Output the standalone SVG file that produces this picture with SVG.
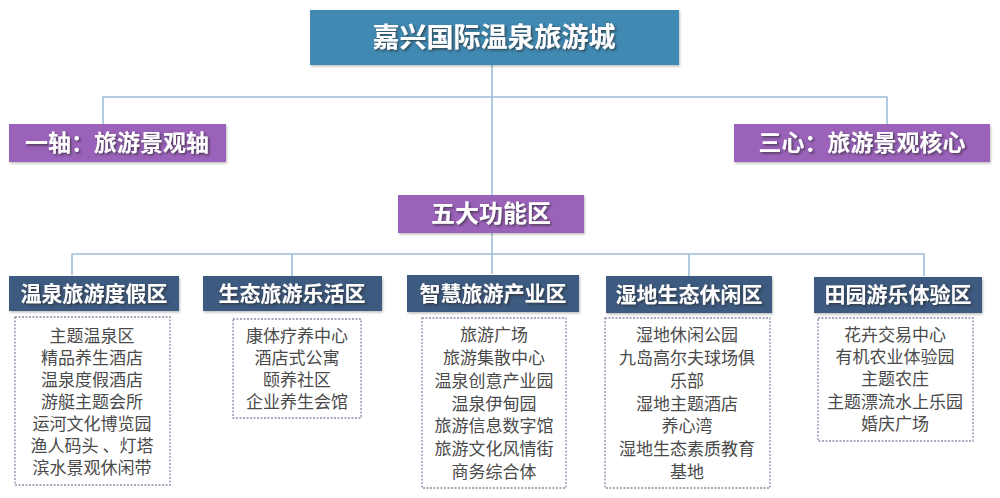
<svg xmlns="http://www.w3.org/2000/svg" width="1000" height="498" viewBox="0 0 1000 498">
<defs>
<filter id="ts" x="-10%" y="-20%" width="130%" height="150%"><feDropShadow dx="1.5" dy="1.5" stdDeviation="0.8" flood-color="#2a2a2a" flood-opacity="0.7"/></filter>
<filter id="bs" x="-5%" y="-10%" width="115%" height="130%"><feDropShadow dx="1" dy="1.5" stdDeviation="1" flood-color="#000" flood-opacity="0.25"/></filter>
</defs>
<style>
.con{fill:none;stroke:#9fbdd9;stroke-width:1.6}
.title{fill:#3f89b2}
.purple{fill:#9b62ba}
.hdr{fill:#3d5a80}
.lbl{font-family:"Noto Sans CJK SC",sans-serif;font-weight:bold;fill:#fff;text-anchor:middle;filter:url(#ts)}
.det{fill:#fff;stroke:#8a8fa8;stroke-width:1.3;stroke-dasharray:2 1.5}
.item{font-family:"Noto Sans CJK SC",sans-serif;font-size:17px;fill:#4a4a4a;text-anchor:middle}
</style>
<rect width="1000" height="498" fill="#fff"/>
<g id="connectors">
<path class="con" d="M492 65 V195 M103 124 V97 H887 V124"/>
<path class="con" d="M492 233 V254 M72 275 V254 H924 V276 M292 254 V276 M492 254 V274 M689 254 V276"/>
</g>
<g id="root">
<rect class="title" x="310" y="10" width="369" height="55" filter="url(#bs)"/>
<text class="lbl" x="494" y="47" font-size="27">嘉兴国际温泉旅游城</text>
</g>
<g id="axis">
<rect class="purple" x="9" y="124" width="217" height="38" filter="url(#bs)"/>
<text class="lbl" x="117" y="151" font-size="23">一轴：旅游景观轴</text>
</g>
<g id="cores">
<rect class="purple" x="734" y="124" width="256" height="38" filter="url(#bs)"/>
<text class="lbl" x="862" y="151" font-size="23">三心：旅游景观核心</text>
</g>
<g id="five">
<rect class="purple" x="398" y="195" width="186" height="38" filter="url(#bs)"/>
<text class="lbl" x="491" y="222" font-size="24">五大功能区</text>
</g>
<g id="zone1">
<rect class="hdr" x="9" y="276" width="170" height="35" filter="url(#bs)"/>
<text class="lbl" x="94" y="301" font-size="21">温泉旅游度假区</text>
<rect class="det" x="15" y="317" width="155" height="168"/>
<text class="item" x="92" y="342">主题温泉区</text>
<text class="item" x="92" y="364">精品养生酒店</text>
<text class="item" x="92" y="386">温泉度假酒店</text>
<text class="item" x="92" y="408">游艇主题会所</text>
<text class="item" x="92" y="430">运河文化博览园</text>
<text class="item" x="92" y="452">渔人码头 、灯塔</text>
<text class="item" x="92" y="474">滨水景观休闲带</text>
</g>
<g id="zone2">
<rect class="hdr" x="203" y="276" width="179" height="35" filter="url(#bs)"/>
<text class="lbl" x="292" y="301" font-size="21">生态旅游乐活区</text>
<rect class="det" x="233" y="319" width="128" height="99"/>
<text class="item" x="297" y="342">康体疗养中心</text>
<text class="item" x="297" y="364">酒店式公寓</text>
<text class="item" x="297" y="386">颐养社区</text>
<text class="item" x="297" y="408">企业养生会馆</text>
</g>
<g id="zone3">
<rect class="hdr" x="407" y="275" width="172" height="37" filter="url(#bs)"/>
<text class="lbl" x="493" y="301" font-size="21">智慧旅游产业区</text>
<rect class="det" x="422" y="318" width="144" height="170"/>
<text class="item" x="494" y="341">旅游广场</text>
<text class="item" x="494" y="364">旅游集散中心</text>
<text class="item" x="494" y="387">温泉创意产业园</text>
<text class="item" x="494" y="410">温泉伊甸园</text>
<text class="item" x="494" y="432">旅游信息数字馆</text>
<text class="item" x="494" y="455">旅游文化风情街</text>
<text class="item" x="494" y="478">商务综合体</text>
</g>
<g id="zone4">
<rect class="hdr" x="606" y="276" width="166" height="37" filter="url(#bs)"/>
<text class="lbl" x="689" y="302" font-size="21">湿地生态休闲区</text>
<rect class="det" x="605" y="318" width="165" height="170"/>
<text class="item" x="687" y="341">湿地休闲公园</text>
<text class="item" x="687" y="364">九岛高尔夫球场俱</text>
<text class="item" x="687" y="387">乐部</text>
<text class="item" x="687" y="410">湿地主题酒店</text>
<text class="item" x="687" y="432">养心湾</text>
<text class="item" x="687" y="455">湿地生态素质教育</text>
<text class="item" x="687" y="478">基地</text>
</g>
<g id="zone5">
<rect class="hdr" x="814" y="277" width="168" height="36" filter="url(#bs)"/>
<text class="lbl" x="898" y="302" font-size="21">田园游乐体验区</text>
<rect class="det" x="818" y="318" width="155" height="123"/>
<text class="item" x="895" y="341">花卉交易中心</text>
<text class="item" x="895" y="363">有机农业体验园</text>
<text class="item" x="895" y="385">主题农庄</text>
<text class="item" x="895" y="408">主题漂流水上乐园</text>
<text class="item" x="895" y="430">婚庆广场</text>
</g>
</svg>
